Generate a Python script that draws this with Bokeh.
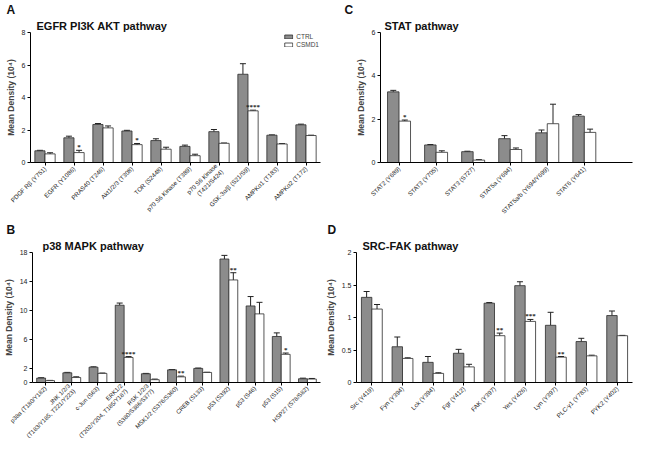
import math
from bokeh.plotting import figure
from bokeh.models import (ColumnDataSource, Range1d, FixedTicker, Whisker, TeeHead,
                          Title, Legend, LegendItem)
from bokeh.transform import dodge
from bokeh.layouts import column, row
from bokeh.embed import file_html
from bokeh.resources import INLINE

# ---------------- data ----------------
cats_a = ["PDGF R\u03b2 (Y751)", "EGFR (Y1086)", "PRAS40 (T246)", "Akt1/2/3 (T308)",
          "TOR (S2448)", "p70 S6 Kinase (T389)", "p70 S6 Kinase\n(T421/S424)",
          "GSK-3\u03b1/\u03b2 (S21/S9)", "AMPK\u03b11 (T183)", "AMPK\u03b12 (T172)"]
ctrl_a = [0.72, 1.52, 2.34, 1.94, 1.35, 0.99, 1.90, 5.43, 1.68, 2.32]
ctrl_a_sem = [0.03, 0.10, 0.06, 0.04, 0.11, 0.08, 0.13, 0.65, 0.02, 0.04]
csmd_a = [0.53, 0.61, 2.13, 1.10, 0.82, 0.42, 1.18, 3.18, 1.14, 1.66]
csmd_a_sem = [0.07, 0.14, 0.12, 0.07, 0.12, 0.09, 0.02, 0.04, 0.02, 0.02]
stars_a = ["", "*", "", "*", "", "", "", "****", "", ""]

cats_b = ["p38\u03b1 (T180/Y182)", "JNK 1/2/3\n(T183/Y185, T221/Y223)", "c-Jun (S63)",
          "ERK1/2\n(T202/Y204, T185/Y187)", "RSK 1/2/3\n(S380/S386/S377)",
          "MSK1/2 (S376/S360)", "CREB (S133)", "p53 (S392)", "p53 (S46)", "p53 (S15)",
          "HSP27 (S78/S82)"]
ctrl_b = [0.61, 1.34, 2.12, 10.7, 1.21, 1.75, 1.95, 17.1, 10.6, 6.37, 0.52]
ctrl_b_sem = [0.05, 0.06, 0.05, 0.30, 0.05, 0.05, 0.05, 0.50, 1.30, 0.50, 0.08]
csmd_b = [0.26, 0.69, 1.26, 3.47, 0.39, 0.78, 1.39, 14.2, 9.5, 3.9, 0.48]
csmd_b_sem = [0.03, 0.10, 0.05, 0.12, 0.08, 0.10, 0.03, 1.00, 1.60, 0.18, 0.08]
stars_b = ["", "", "", "****", "", "**", "", "**", "", "*", ""]

cats_c = ["STAT2 (Y689)", "STAT3 (Y705)", "STAT3 (S727)", "STAT5a (Y694)",
          "STAT5a/b (Y694/Y699)", "STAT6 (Y641)"]
ctrl_c = [3.26, 0.81, 0.50, 1.10, 1.37, 2.14]
ctrl_c_sem = [0.07, 0.02, 0.02, 0.14, 0.13, 0.07]
csmd_c = [1.91, 0.47, 0.11, 0.60, 1.79, 1.39]
csmd_c_sem = [0.05, 0.07, 0.02, 0.07, 0.90, 0.15]
stars_c = ["*", "", "", "", "", ""]

cats_d = ["Src (Y419)", "Fyn (Y394)", "Lck (Y394)", "Fgr (Y412)", "FAK (Y397)",
          "Yes (Y426)", "Lyn (Y397)", "PLC-\u03b31 (Y783)", "PYK2 (Y402)"]
ctrl_d = [1.31, 0.55, 0.31, 0.45, 1.22, 1.49, 0.88, 0.63, 1.03]
ctrl_d_sem = [0.09, 0.15, 0.09, 0.06, 0.01, 0.06, 0.20, 0.05, 0.07]
csmd_d = [1.13, 0.37, 0.14, 0.24, 0.72, 0.94, 0.39, 0.41, 0.72]
csmd_d_sem = [0.07, 0.01, 0.01, 0.04, 0.04, 0.03, 0.01, 0.01, 0.005]
stars_d = ["", "", "", "", "**", "***", "**", "", ""]

yticks_a = [0, 2, 4, 6, 8]
yticks_b = [0, 2, 6, 10, 14, 18]
yticks_c = [0, 2, 4, 6]
yticks_d = [0, 0.5, 1, 1.5, 2]
ytick_labels_d = ["0", "0.5", "1", "1.5", "2"]

series_names = ["CTRL", "CSMD1"]

FONT = "Liberation Sans"
CTRL_COLOR = "#8c8c8c"
EDGE = "#2b2b2b"


def make_panel(letter, title, cats, ctrl, ctrl_sem, csmd, csmd_sem, stars, yticks,
               ytick_labels, width, height, bw, right_extra, min_left,
               letter_dx, title_dx, xfont="6.2px", legend=False):
    n = len(cats)
    src = ColumnDataSource(dict(
        x=list(range(n)), ctrl=ctrl, csmd=csmd,
        ctrl_hi=[m + s for m, s in zip(ctrl, ctrl_sem)],
        csmd_hi=[m + s for m, s in zip(csmd, csmd_sem)],
        stars=stars))
    ymax = yticks[-1]
    p = figure(width=width, height=height,
               x_range=Range1d(-0.5, n - 0.5 + right_extra), y_range=Range1d(0, ymax),
               output_backend="svg", toolbar_location=None,
               min_border_left=min_left, min_border_right=2, min_border_top=0,
               min_border_bottom=0)
    p.outline_line_color = None
    p.xgrid.visible = False
    p.ygrid.visible = False
    p.background_fill_color = "white"

    # panel letter (outer row) and pathway title (row next to the frame)
    p.title.text = letter
    p.title.align = "left"
    p.title.offset = letter_dx
    p.title.standoff = 0
    p.title.text_font = FONT
    p.title.text_font_size = "12px"
    p.title.text_font_style = "bold"
    p.title.text_color = "#111111"
    p.add_layout(Title(text=title, align="left", offset=title_dx, standoff=2,
                       text_font=FONT, text_font_size="11px", text_font_style="bold",
                       text_color="#111111"), "above")

    r1 = p.vbar(x=dodge("x", -bw / 2), top="ctrl", width=bw, source=src,
                fill_color=CTRL_COLOR, line_color=EDGE, line_width=0.8)
    r2 = p.vbar(x=dodge("x", bw / 2), top="csmd", width=bw, source=src,
                fill_color="white", line_color=EDGE, line_width=0.8)
    for off, lo, hi in ((-bw / 2, "ctrl", "ctrl_hi"), (bw / 2, "csmd", "csmd_hi")):
        w = Whisker(source=src, base=dodge("x", off), lower=lo, upper=hi,
                    dimension="height", line_color="#222222", line_width=1,
                    upper_head=TeeHead(size=6, line_color="#222222", line_width=1),
                    lower_head=None)
        p.add_layout(w)
    p.text(x=dodge("x", bw / 2), y="csmd_hi", text="stars", source=src,
           text_align="center", text_baseline="bottom", text_font_size="7px",
           text_font=FONT, text_font_style="bold", text_color="#222222", y_offset=1)

    # axes
    p.xaxis.ticker = FixedTicker(ticks=list(range(n)))
    p.xaxis.major_label_overrides = {i: c for i, c in enumerate(cats)}
    p.xaxis.major_label_orientation = math.pi / 4
    p.xaxis.minor_tick_line_color = None
    p.xaxis.major_tick_in = 0
    p.xaxis.major_tick_out = 3
    p.xaxis.major_label_text_font_size = xfont
    p.yaxis.ticker = FixedTicker(ticks=yticks)
    if ytick_labels is not None:
        p.yaxis.major_label_overrides = {t: l for t, l in zip(yticks, ytick_labels)}
    p.yaxis.minor_tick_line_color = None
    p.yaxis.major_tick_in = 0
    p.yaxis.major_tick_out = 3
    p.yaxis.major_label_text_font_size = "7px"
    p.yaxis.axis_label = "Mean Density (10\u2074)"
    for ax in (p.xaxis[0], p.yaxis[0]):
        ax.axis_line_color = "black"
        ax.major_tick_line_color = "black"
        ax.major_label_text_font = FONT
        ax.major_label_text_color = "#222222"
        ax.major_label_standoff = 2
    p.yaxis.axis_label_text_font = FONT
    p.yaxis.axis_label_text_font_size = "8.5px"
    p.yaxis.axis_label_text_font_style = "bold"
    p.yaxis.axis_label_standoff = 3

    if legend:
        lg = Legend(items=[LegendItem(label=series_names[0], renderers=[r1]),
                           LegendItem(label=series_names[1], renderers=[r2])],
                    location="top_right", glyph_width=10, glyph_height=5,
                    label_text_font=FONT, label_text_font_size="6.5px", label_height=6,
                    label_standoff=3, spacing=1, padding=0, margin=1,
                    border_line_alpha=0, background_fill_alpha=0)
        p.add_layout(lg)
    return p


pa = make_panel("A", "EGFR PI3K AKT pathway", cats_a, ctrl_a, ctrl_a_sem, csmd_a, csmd_a_sem,
                stars_a, yticks_a, None, 322, 220, 0.35, 0.0, 30, -24, 6, legend=True)
pb = make_panel("B", "p38 MAPK pathway", cats_b, ctrl_b, ctrl_b_sem, csmd_b, csmd_b_sem,
                stars_b, yticks_b, None, 322, 226, 0.34, 0.0, 32, -26, 10, xfont="6px")
pc = make_panel("C", "STAT pathway", cats_c, ctrl_c, ctrl_c_sem, csmd_c, csmd_c_sem,
                stars_c, yticks_c, None, 312, 220, 0.31, 0.8, 58, -36, 4)
pd = make_panel("D", "SRC-FAK pathway", cats_d, ctrl_d, ctrl_d_sem, csmd_d, csmd_d_sem,
                stars_d, yticks_d, ytick_labels_d, 312, 226, 0.34, 0.0, 30, -29, 6)

layout = column(row(pa, pc), row(pb, pd))
open("out.html", "w").write(file_html(layout, INLINE))
